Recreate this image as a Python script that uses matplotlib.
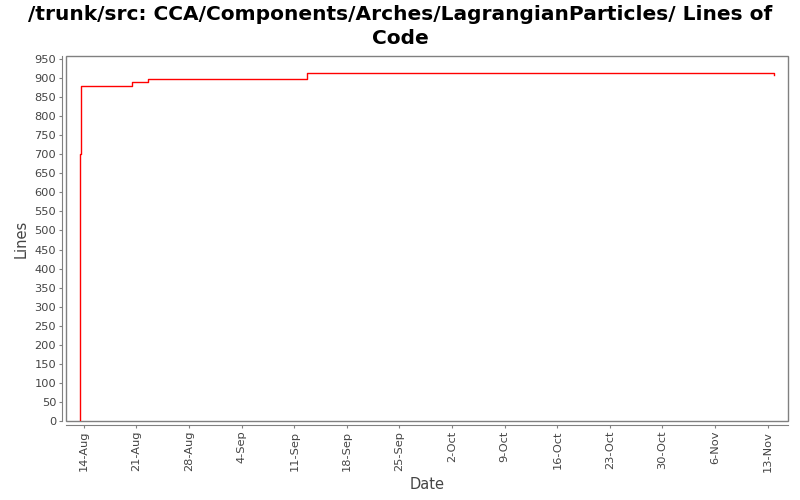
import matplotlib
matplotlib.use("Agg")
import matplotlib.pyplot as plt
import matplotlib.dates as mdates
from matplotlib.patches import Rectangle
import pandas as pd

# lines of code over time (step series)
dates = ["2006-08-13 11:15", "2006-08-13 11:15", "2006-08-13 14:30",
         "2006-08-20 09:20", "2006-08-22 12:30", "2006-09-12 16:00",
         "2006-11-13 20:40"]
lines = [0, 702, 879, 889, 897, 913, 908]
tick_dates = pd.date_range("2006-08-14", "2006-11-13", freq="7D")
y_ticks = list(range(0, 951, 50))

TITLE = "/trunk/src: CCA/Components/Arches/LagrangianParticles/ Lines of\nCode"
GRAY = "#808080"
TEXT = "#444444"

x = pd.to_datetime(dates)

fig = plt.figure(figsize=(8, 5), dpi=100)
ax = fig.add_axes([0.0825, 0.158, 0.9025, 0.73])

ax.plot(x, lines, drawstyle="steps-post", color="red", linewidth=1.0)

ax.margins(x=0.02)
ax.set_ylim(0, 958)
ax.set_yticks(y_ticks)
ax.set_xticks(tick_dates)


def day_fmt(v, pos):
    d = mdates.num2date(v)
    return f"{d.day}-{d:%b}"


ax.xaxis.set_major_formatter(matplotlib.ticker.FuncFormatter(day_fmt))

# JFreeChart style: plot border + axis lines offset a bit
for s in ("top", "right"):
    ax.spines[s].set_visible(False)
for s in ("left", "bottom"):
    ax.spines[s].set_position(("outward", 3))
    ax.spines[s].set_color(GRAY)
ax.add_patch(Rectangle((0, 0), 1, 1, transform=ax.transAxes, fill=False,
                       edgecolor=GRAY, linewidth=1.0, clip_on=False))

ax.tick_params(axis="both", colors=GRAY, length=2, width=0.8,
               labelcolor=TEXT, labelsize=8.2, pad=2)
ax.tick_params(axis="x", labelrotation=90)

ax.set_xlabel("Date", fontsize=10.5, color=TEXT, labelpad=4)
ax.set_ylabel("Lines", fontsize=10.5, color=TEXT, labelpad=4)

fig.suptitle(TITLE, fontsize=14.5, fontweight="bold", y=0.99, linespacing=1.32)

fig.savefig("out.png", dpi=100)
